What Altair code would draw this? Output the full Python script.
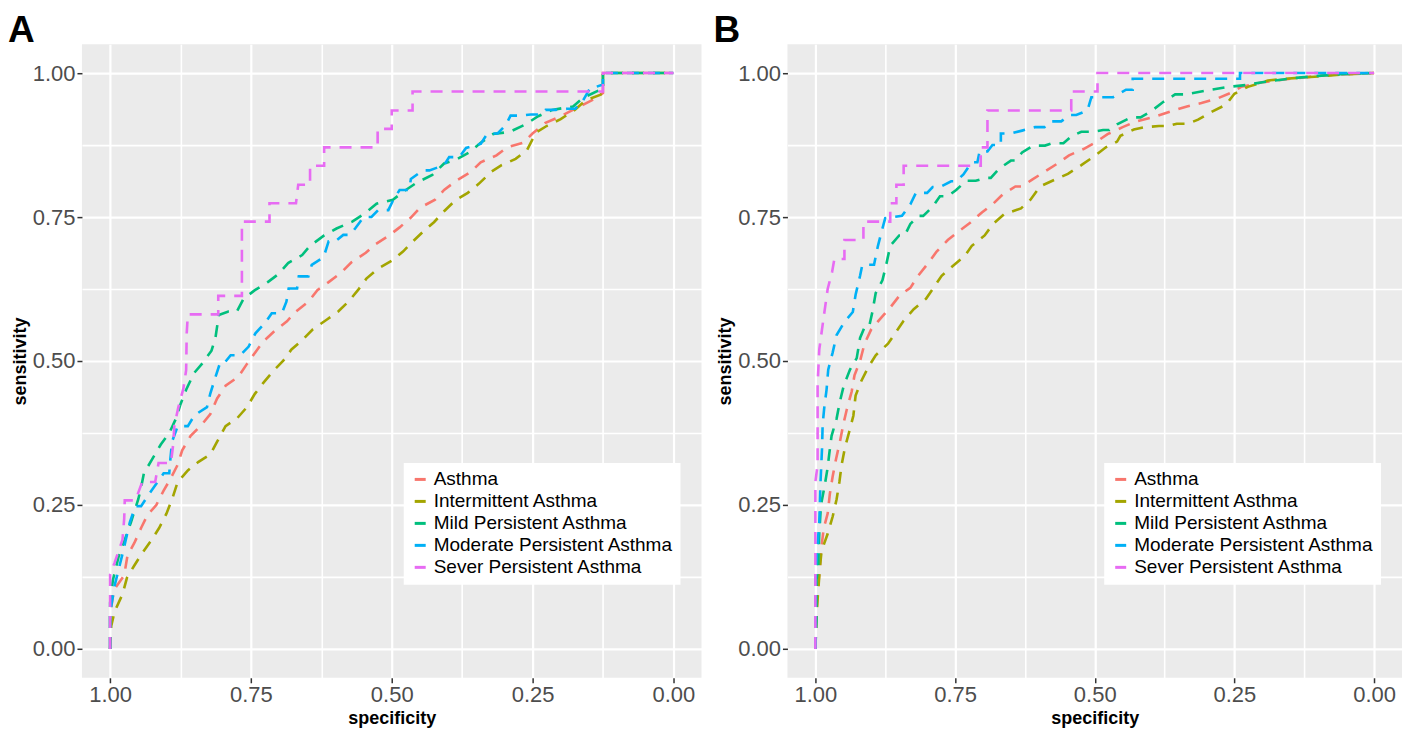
import altair as alt
import pandas as pd

FONT = "Liberation Sans"

GROUPS = ["Asthma", "Intermittent Asthma", "Mild Persistent Asthma",
          "Moderate Persistent Asthma", "Sever Persistent Asthma"]
COLORS = ["#F8766D", "#A3A500", "#00BF7D", "#00B0F6", "#E76BF3"]
PANEL_LABELS = ["A", "B"]
TICK_VALUES = [0.0, 0.125, 0.25, 0.375, 0.5, 0.625, 0.75, 0.875, 1.0]

# ---------------- Panel A ----------------
A_asthma_spec = [1.0, 1.0, 0.996, 0.993, 0.975, 0.969, 0.957, 0.945, 0.934, 0.918, 0.905, 0.893, 0.88, 0.872, 0.857, 0.837, 0.822, 0.81, 0.795, 0.772, 0.757, 0.743, 0.728, 0.708, 0.686, 0.67, 0.648, 0.632, 0.612, 0.589, 0.572, 0.546, 0.53, 0.506, 0.486, 0.466, 0.45, 0.423, 0.407, 0.384, 0.36, 0.342, 0.314, 0.295, 0.266, 0.25, 0.228, 0.2, 0.17, 0.14, 0.125, 0.125, 0.0]
A_asthma_sens = [0.0, 0.06, 0.085, 0.103, 0.128, 0.163, 0.184, 0.21, 0.232, 0.25, 0.275, 0.295, 0.32, 0.345, 0.37, 0.39, 0.408, 0.435, 0.457, 0.473, 0.495, 0.514, 0.534, 0.552, 0.569, 0.586, 0.603, 0.623, 0.637, 0.654, 0.671, 0.688, 0.702, 0.717, 0.732, 0.749, 0.766, 0.78, 0.797, 0.814, 0.828, 0.845, 0.857, 0.871, 0.879, 0.895, 0.913, 0.925, 0.94, 0.955, 0.965, 1.0, 1.0]

A_inter_spec = [1.0, 0.998, 0.992, 0.978, 0.97, 0.957, 0.944, 0.926, 0.913, 0.9, 0.89, 0.88, 0.862, 0.843, 0.822, 0.81, 0.795, 0.775, 0.757, 0.743, 0.728, 0.71, 0.693, 0.678, 0.66, 0.64, 0.615, 0.595, 0.577, 0.56, 0.545, 0.525, 0.5, 0.48, 0.463, 0.445, 0.425, 0.407, 0.387, 0.365, 0.345, 0.324, 0.305, 0.28, 0.26, 0.25, 0.245, 0.225, 0.2, 0.175, 0.155, 0.13, 0.125, 0.125, 0.0]
A_inter_sens = [0.0, 0.04, 0.065, 0.095, 0.124, 0.145, 0.165, 0.19, 0.21, 0.235, 0.26, 0.29, 0.31, 0.325, 0.338, 0.36, 0.387, 0.4, 0.42, 0.443, 0.462, 0.483, 0.5, 0.52, 0.535, 0.555, 0.572, 0.586, 0.603, 0.623, 0.643, 0.66, 0.674, 0.69, 0.707, 0.724, 0.741, 0.76, 0.779, 0.792, 0.808, 0.828, 0.84, 0.851, 0.866, 0.885, 0.896, 0.908, 0.92, 0.936, 0.953, 0.962, 0.965, 1.0, 1.0]

A_mild_spec = [1.0, 1.0, 0.995, 0.985, 0.972, 0.963, 0.95, 0.945, 0.94, 0.925, 0.91, 0.895, 0.883, 0.875, 0.865, 0.851, 0.836, 0.82, 0.813, 0.807, 0.79, 0.775, 0.763, 0.743, 0.72, 0.701, 0.684, 0.659, 0.645, 0.62, 0.598, 0.57, 0.547, 0.527, 0.498, 0.475, 0.455, 0.428, 0.407, 0.385, 0.363, 0.342, 0.32, 0.29, 0.262, 0.24, 0.215, 0.178, 0.16, 0.132, 0.125, 0.125, 0.0]
A_mild_sens = [0.0, 0.08, 0.12, 0.16, 0.195, 0.22, 0.26, 0.28, 0.305, 0.33, 0.355, 0.375, 0.4, 0.425, 0.45, 0.479, 0.496, 0.518, 0.54, 0.58, 0.586, 0.586, 0.608, 0.623, 0.637, 0.651, 0.67, 0.684, 0.7, 0.718, 0.73, 0.742, 0.757, 0.773, 0.78, 0.797, 0.81, 0.823, 0.843, 0.85, 0.862, 0.879, 0.894, 0.898, 0.911, 0.925, 0.936, 0.942, 0.957, 0.97, 0.97, 1.0, 1.0]

A_mod_spec = [1.0, 1.0, 0.997, 0.992, 0.978, 0.965, 0.955, 0.945, 0.93, 0.905, 0.895, 0.893, 0.89, 0.88, 0.862, 0.85, 0.828, 0.822, 0.813, 0.804, 0.795, 0.786, 0.769, 0.754, 0.742, 0.724, 0.713, 0.695, 0.687, 0.683, 0.668, 0.665, 0.648, 0.642, 0.621, 0.612, 0.6, 0.586, 0.574, 0.565, 0.55, 0.536, 0.524, 0.506, 0.497, 0.486, 0.469, 0.466, 0.445, 0.433, 0.407, 0.398, 0.38, 0.368, 0.342, 0.33, 0.312, 0.298, 0.289, 0.271, 0.253, 0.236, 0.227, 0.209, 0.188, 0.174, 0.16, 0.147, 0.14, 0.125, 0.125, 0.0]
A_mod_sens = [0.0, 0.06, 0.08, 0.11, 0.165, 0.22, 0.248, 0.248, 0.27, 0.305, 0.305, 0.33, 0.36, 0.387, 0.387, 0.406, 0.42, 0.444, 0.472, 0.499, 0.499, 0.51, 0.51, 0.525, 0.548, 0.567, 0.583, 0.583, 0.603, 0.626, 0.626, 0.647, 0.647, 0.667, 0.68, 0.708, 0.708, 0.719, 0.719, 0.73, 0.75, 0.75, 0.762, 0.762, 0.78, 0.797, 0.797, 0.816, 0.831, 0.831, 0.84, 0.854, 0.854, 0.87, 0.877, 0.895, 0.895, 0.909, 0.926, 0.926, 0.928, 0.928, 0.936, 0.936, 0.938, 0.938, 0.953, 0.975, 0.975, 0.98, 1.0, 1.0]

A_sev_spec = [1.0, 1.0, 0.992, 0.978, 0.975, 0.974, 0.955, 0.943, 0.92, 0.914, 0.892, 0.888, 0.886, 0.879, 0.87, 0.865, 0.864, 0.862, 0.808, 0.808, 0.766, 0.766, 0.717, 0.717, 0.67, 0.666, 0.645, 0.645, 0.62, 0.62, 0.525, 0.525, 0.5, 0.5, 0.463, 0.463, 0.125, 0.125, 0.0]
A_sev_sens = [0.0, 0.129, 0.15, 0.19, 0.226, 0.258, 0.258, 0.29, 0.29, 0.323, 0.323, 0.355, 0.387, 0.419, 0.452, 0.484, 0.548, 0.581, 0.581, 0.613, 0.613, 0.742, 0.742, 0.774, 0.774, 0.806, 0.806, 0.839, 0.839, 0.871, 0.871, 0.903, 0.903, 0.935, 0.935, 0.968, 0.968, 1.0, 1.0]

# ---------------- Panel B ----------------
B_asthma_spec = [1.0, 0.998, 0.995, 0.992, 0.99, 0.985, 0.978, 0.974, 0.969, 0.963, 0.956, 0.95, 0.944, 0.935, 0.93, 0.92, 0.912, 0.9, 0.884, 0.866, 0.849, 0.83, 0.816, 0.798, 0.783, 0.763, 0.745, 0.723, 0.702, 0.683, 0.665, 0.642, 0.63, 0.612, 0.589, 0.568, 0.546, 0.52, 0.498, 0.477, 0.45, 0.426, 0.397, 0.365, 0.335, 0.309, 0.28, 0.253, 0.238, 0.2, 0.15, 0.1, 0.05, 0.0]
B_asthma_sens = [0.0, 0.06, 0.11, 0.14, 0.17, 0.21, 0.235, 0.27, 0.3, 0.33, 0.36, 0.39, 0.415, 0.447, 0.475, 0.5, 0.53, 0.555, 0.573, 0.593, 0.614, 0.627, 0.648, 0.67, 0.69, 0.71, 0.724, 0.74, 0.758, 0.772, 0.789, 0.803, 0.803, 0.815, 0.829, 0.842, 0.857, 0.868, 0.88, 0.894, 0.906, 0.916, 0.923, 0.933, 0.942, 0.948, 0.956, 0.967, 0.976, 0.984, 0.99, 0.995, 0.998, 1.0]

B_inter_spec = [1.0, 0.998, 0.995, 0.992, 0.989, 0.978, 0.969, 0.962, 0.957, 0.953, 0.947, 0.94, 0.932, 0.928, 0.918, 0.906, 0.892, 0.87, 0.858, 0.842, 0.824, 0.802, 0.79, 0.774, 0.754, 0.733, 0.72, 0.697, 0.682, 0.662, 0.632, 0.615, 0.598, 0.571, 0.548, 0.524, 0.5, 0.48, 0.46, 0.454, 0.43, 0.41, 0.385, 0.368, 0.353, 0.333, 0.315, 0.29, 0.265, 0.25, 0.226, 0.19, 0.16, 0.1, 0.05, 0.0]
B_inter_sens = [0.0, 0.06, 0.1, 0.14, 0.17, 0.2, 0.23, 0.26, 0.29, 0.32, 0.35, 0.375, 0.405, 0.44, 0.465, 0.488, 0.51, 0.53, 0.547, 0.57, 0.59, 0.608, 0.625, 0.648, 0.665, 0.682, 0.7, 0.718, 0.738, 0.755, 0.765, 0.78, 0.803, 0.815, 0.825, 0.84, 0.856, 0.871, 0.881, 0.891, 0.902, 0.906, 0.908, 0.908, 0.912, 0.912, 0.919, 0.933, 0.945, 0.964, 0.976, 0.987, 0.99, 0.994, 0.998, 1.0]

B_mild_spec = [1.0, 0.998, 0.998, 0.995, 0.993, 0.99, 0.984, 0.978, 0.975, 0.971, 0.962, 0.956, 0.949, 0.938, 0.926, 0.92, 0.91, 0.903, 0.898, 0.892, 0.88, 0.873, 0.866, 0.85, 0.84, 0.83, 0.815, 0.807, 0.79, 0.777, 0.763, 0.748, 0.73, 0.713, 0.695, 0.686, 0.671, 0.65, 0.642, 0.63, 0.61, 0.589, 0.577, 0.556, 0.542, 0.524, 0.503, 0.485, 0.474, 0.46, 0.435, 0.418, 0.4, 0.377, 0.356, 0.338, 0.297, 0.26, 0.23, 0.2, 0.17, 0.135, 0.1, 0.06, 0.0]
B_mild_sens = [0.0, 0.05, 0.12, 0.14, 0.2, 0.25, 0.28, 0.315, 0.34, 0.37, 0.4, 0.43, 0.458, 0.485, 0.505, 0.54, 0.563, 0.563, 0.585, 0.618, 0.64, 0.668, 0.7, 0.718, 0.718, 0.738, 0.752, 0.752, 0.768, 0.786, 0.786, 0.797, 0.813, 0.813, 0.818, 0.818, 0.834, 0.848, 0.848, 0.862, 0.874, 0.874, 0.878, 0.878, 0.89, 0.898, 0.898, 0.901, 0.901, 0.911, 0.923, 0.923, 0.933, 0.95, 0.963, 0.963, 0.97, 0.976, 0.979, 0.984, 0.988, 0.992, 0.995, 0.998, 1.0]

B_mod_spec = [1.0, 1.0, 0.997, 0.993, 0.991, 0.988, 0.987, 0.984, 0.98, 0.977, 0.969, 0.962, 0.948, 0.933, 0.928, 0.92, 0.916, 0.895, 0.888, 0.88, 0.875, 0.845, 0.83, 0.82, 0.8, 0.79, 0.777, 0.757, 0.748, 0.735, 0.72, 0.71, 0.706, 0.692, 0.683, 0.668, 0.668, 0.65, 0.63, 0.607, 0.59, 0.58, 0.56, 0.545, 0.533, 0.513, 0.506, 0.467, 0.444, 0.432, 0.432, 0.24, 0.24, 0.0]
B_mod_sens = [0.0, 0.12, 0.17, 0.22, 0.285, 0.35, 0.39, 0.42, 0.45, 0.485, 0.515, 0.545, 0.568, 0.585, 0.615, 0.648, 0.667, 0.667, 0.7, 0.73, 0.748, 0.752, 0.772, 0.792, 0.792, 0.802, 0.802, 0.812, 0.812, 0.824, 0.845, 0.845, 0.864, 0.864, 0.875, 0.875, 0.895, 0.895, 0.9, 0.906, 0.906, 0.916, 0.916, 0.927, 0.927, 0.935, 0.958, 0.958, 0.971, 0.971, 0.99, 0.99, 1.0, 1.0]

B_sev_spec = [1.0, 1.0, 0.996, 0.996, 0.993, 0.986, 0.978, 0.97, 0.966, 0.948, 0.948, 0.914, 0.914, 0.866, 0.866, 0.855, 0.855, 0.842, 0.842, 0.704, 0.704, 0.692, 0.692, 0.542, 0.542, 0.495, 0.495, 0.0]
B_sev_sens = [0.0, 0.29, 0.32, 0.46, 0.52, 0.57, 0.625, 0.655, 0.677, 0.677, 0.71, 0.71, 0.742, 0.742, 0.774, 0.774, 0.806, 0.806, 0.839, 0.839, 0.871, 0.871, 0.935, 0.935, 0.968, 0.968, 1.0, 1.0]

PANEL_A = {
    GROUPS[0]: (A_asthma_spec, A_asthma_sens),
    GROUPS[1]: (A_inter_spec, A_inter_sens),
    GROUPS[2]: (A_mild_spec, A_mild_sens),
    GROUPS[3]: (A_mod_spec, A_mod_sens),
    GROUPS[4]: (A_sev_spec, A_sev_sens),
}
PANEL_B = {
    GROUPS[0]: (B_asthma_spec, B_asthma_sens),
    GROUPS[1]: (B_inter_spec, B_inter_sens),
    GROUPS[2]: (B_mild_spec, B_mild_sens),
    GROUPS[3]: (B_mod_spec, B_mod_sens),
    GROUPS[4]: (B_sev_spec, B_sev_sens),
}


def to_frame(panel):
    rows = []
    for g, (sp, se) in panel.items():
        for i, (a, b) in enumerate(zip(sp, se)):
            rows.append({"group": g, "spec": a, "sens": b, "i": i})
    return pd.DataFrame(rows)


MAJOR = "datum.value % 0.25 === 0"


def make_axis(title, title_pad):
    return alt.Axis(
        title=title,
        values=TICK_VALUES,
        labelExpr=MAJOR + " ? format(datum.value, '.2f') : ''",
        gridWidth={"condition": {"test": MAJOR, "value": 2.2}, "value": 1.6},
        tickOpacity={"condition": {"test": MAJOR, "value": 1}, "value": 0},
        labelOverlap=False,
        labelFlush=False,
        tickSize=5,
        tickWidth=1.5,
        tickColor="#333333",
        domain=False,
        labelPadding=2,
        labelFont=FONT,
        labelFontSize=22,
        labelColor="#4D4D4D",
        titleFont=FONT,
        titleFontSize=18,
        titleFontWeight="bold",
        titleColor="black",
        titlePadding=title_pad,
        gridColor="white",
    )


def panel_chart(panel, label, w, h):
    df = to_frame(panel)
    lines = alt.Chart(df).mark_line(strokeDash=[12, 9], strokeWidth=2.6).encode(
        x=alt.X("spec:Q", scale=alt.Scale(domain=[-0.05, 1.05], reverse=True, nice=False, zero=False),
                axis=make_axis("specificity", 4)),
        y=alt.Y("sens:Q", scale=alt.Scale(domain=[-0.05, 1.05], nice=False, zero=False),
                axis=make_axis("sensitivity", 3)),
        color=alt.Color("group:N", title=None,
                        scale=alt.Scale(domain=GROUPS, range=COLORS),
                        legend=alt.Legend(orient="none", legendX=w - 17 - 281, legendY=h - 96 - 119,
                                          fillColor="white", padding=7,
                                          labelFont=FONT, labelFontSize=19, labelColor="black",
                                          labelLimit=400, labelOffset=4,
                                          symbolType="stroke", symbolStrokeWidth=3,
                                          symbolSize=121, rowPadding=2)),
        order="i:Q",
    )
    lab = alt.Chart(pd.DataFrame({"t": [label]})).mark_text(
        fontSize=37, fontWeight="bold", font=FONT, align="left", baseline="top", color="black"
    ).encode(x=alt.value(-74), y=alt.value(-31), text="t:N")
    return alt.layer(lines, lab).properties(width=w, height=h)


chart_a = panel_chart(PANEL_A, PANEL_LABELS[0], 620, 634)
chart_b = panel_chart(PANEL_B, PANEL_LABELS[1], 615, 634)

chart = alt.hconcat(chart_a, chart_b, spacing=12).resolve_scale(
    color="independent"
).resolve_legend(color="independent").properties(
    padding={"top": 4, "left": 0, "right": 0, "bottom": 0}
).configure_view(fill="#EBEBEB", strokeWidth=0)

chart.save("out.html", embed_options={"renderer": "svg", "actions": False})
